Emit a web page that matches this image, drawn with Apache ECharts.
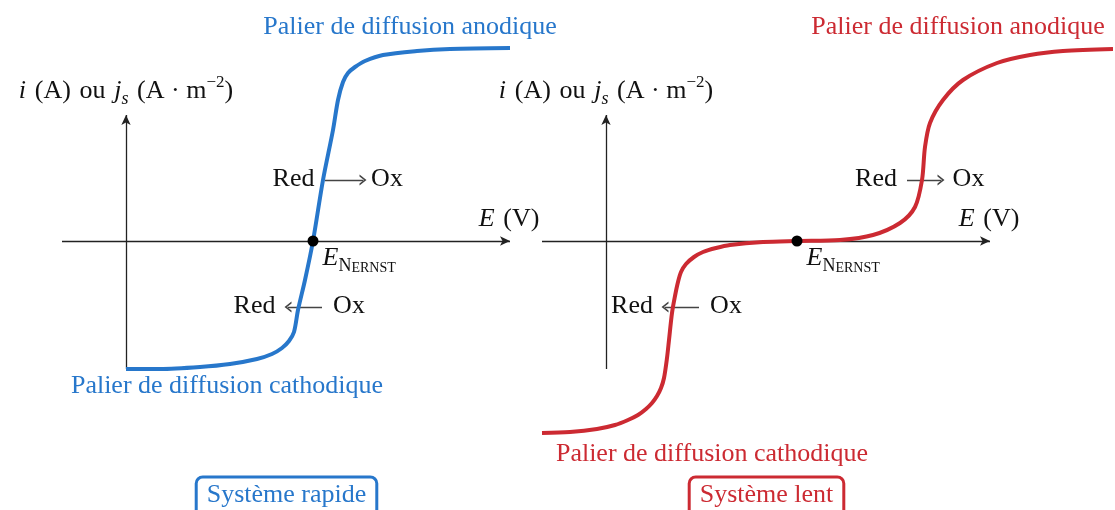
<!DOCTYPE html>
<html>
<head>
<meta charset="utf-8">
<script src="https://cdn.jsdelivr.net/npm/echarts@6/dist/echarts.min.js"></script>
<style>
  html, body { margin: 0; padding: 0; background: #fff; }
  #c { width: 1115px; height: 510px; }
</style>
</head>
<body>
<div id="c"></div>
<script>
// Courbe i(E) d'un système rapide (E relatif en V, i en unités arbitraires)
const rapideE = [0, 0.34, 0.74, 1.04, 1.31, 1.46, 1.56, 1.63, 1.68, 1.72, 1.79, 1.87, 1.97, 2.07, 2.12, 2.17, 2.22, 2.29, 2.39, 2.57, 2.91, 3.24, 3.84];
const rapideI = [-1.28, -1.28, -1.26, -1.23, -1.18, -1.13, -1.07, -1.00, -0.91, -0.69, -0.39, 0, 0.61, 1.11, 1.41, 1.59, 1.68, 1.74, 1.80, 1.86, 1.90, 1.92, 1.93];

// Courbe i(E) d'un système lent
const lentE = [-0.64, -0.36, -0.09, 0.09, 0.22, 0.32, 0.40, 0.46, 0.51, 0.55, 0.58, 0.61, 0.63, 0.66, 0.69, 0.72, 0.75, 0.80, 0.88, 0.97, 1.10, 1.24, 1.57, 1.91, 2.34, 2.67, 2.94, 3.09, 3.16, 3.19, 3.24, 3.37, 3.57, 3.91, 4.24, 4.57, 5.07];
const lentI = [-1.92, -1.91, -1.88, -1.84, -1.79, -1.74, -1.68, -1.62, -1.55, -1.47, -1.37, -1.17, -0.99, -0.72, -0.55, -0.41, -0.31, -0.23, -0.16, -0.11, -0.07, -0.04, -0.01, 0, 0.01, 0.06, 0.18, 0.34, 0.61, 0.94, 1.18, 1.41, 1.61, 1.78, 1.86, 1.90, 1.92];

// Potentiel de Nernst de chaque système (i = 0)
const nernstE = [1.87, 1.91];

// Étendue des axes tracés
const axeEEtendue = [-0.64, 3.84];
const axeIEtendue = [-1.28, 1.26];

// Textes
const titres = ['Système rapide', 'Système lent'];
const palierAnodique = 'Palier de diffusion anodique';
const palierCathodique = 'Palier de diffusion cathodique';
const axeILabel = '{it|i}\u2004(A)\u2004ou\u2004{it|j}{sub|s}\u2004(A\u2005·\u2005m{sup|−2})';
const axeELabel = '{it|E}\u2004(V)';
const especeRed = 'Red';
const especeOx = 'Ox';
const nernstLabel = '{it|E}{n|N}{sc|ERNST}';

const SERIF = "'Liberation Serif', 'DejaVu Serif', serif";
const BLEU = '#2777cb';
const ROUGE = '#cc2a32';
const NOIR = '#111';

const rich = {
  it: { fontStyle: 'italic', fontFamily: SERIF, fontSize: 26, lineHeight: 34, color: NOIR },
  sub: { fontStyle: 'italic', fontFamily: SERIF, fontSize: 18, lineHeight: 26, verticalAlign: 'bottom', color: NOIR },
  sup: { fontFamily: SERIF, fontSize: 17, lineHeight: 22, verticalAlign: 'top', color: NOIR },
  n: { fontFamily: SERIF, fontSize: 18, lineHeight: 20, verticalAlign: 'bottom', color: NOIR },
  sc: { fontFamily: SERIF, fontSize: 14, lineHeight: 17, verticalAlign: 'bottom', color: NOIR }
};

// Pointe de flèche ouverte (orientée vers le haut, tournée par markLine)
const CHEVRON = 'path://M5,0 L10,10 L8.2,10 L5,3.6 L1.8,10 L0,10 Z';

const panneaux = [
  {
    couleur: BLEU, E: rapideE, I: rapideI, nernst: nernstE[0], titre: titres[0],
    left: 0, width: 540, xmin: -1.26, xmax: 4.14,
    pos: {
      anod: [2.84, 2.14], cath: [1.01, -1.45], titre: [1.605, -2.605],
      redHaut: [1.675, 0.62], oxHaut: [2.61, 0.62], flecheHaut: [[1.99, 0.61], [2.37, 0.61]],
      redBas: [1.285, -0.65], oxBas: [2.23, -0.65], flecheBas: [[1.96, -0.66], [1.62, -0.66]]
    }
  },
  {
    couleur: ROUGE, E: lentE, I: lentI, nernst: nernstE[1], titre: titres[1],
    left: 540, width: 575, xmin: -0.66, xmax: 5.09,
    pos: {
      anod: [3.52, 2.14], cath: [1.06, -2.13], titre: [1.605, -2.605],
      redHaut: [2.70, 0.62], oxHaut: [3.625, 0.62], flecheHaut: [[3.01, 0.61], [3.35, 0.61]],
      redBas: [0.26, -0.65], oxBas: [1.20, -0.65], flecheBas: [[0.93, -0.66], [0.59, -0.66]]
    }
  }
];

const grids = [], xAxes = [], yAxes = [], series = [];

panneaux.forEach((p, k) => {
  grids.push({ left: p.left, width: p.width, top: 0, height: 510 });
  xAxes.push({ type: 'value', gridIndex: k, min: p.xmin, max: p.xmax, show: false });
  yAxes.push({ type: 'value', gridIndex: k, min: -2.69, max: 2.41, show: false });

  const txt = (value, formatter, extra) => ({
    value,
    label: Object.assign({
      show: true, position: 'inside', formatter,
      fontFamily: SERIF, fontSize: 26, lineHeight: 34, color: NOIR,
      textBorderWidth: 0, textShadowBlur: 0, rich
    }, extra || {})
  });

  const etiquettes = [
    txt(p.pos.anod, palierAnodique, { color: p.couleur }),
    txt(p.pos.cath, palierCathodique, { color: p.couleur }),
    txt([0, 1.50], axeILabel),
    txt([axeEEtendue[1] - 0.01, 0.22], axeELabel),
    txt(p.pos.redHaut, especeRed),
    txt(p.pos.oxHaut, especeOx),
    txt(p.pos.redBas, especeRed),
    txt(p.pos.oxBas, especeOx),
    txt([p.nernst + 0.09, -0.17], nernstLabel, { position: 'right', distance: 0 }),
    txt(p.pos.titre, p.titre, {
      color: p.couleur, backgroundColor: '#fff', borderColor: p.couleur,
      borderWidth: 3, borderRadius: 5, padding: [2, 9, 14, 9], lineHeight: 30
    })
  ];

  // Axes fléchés + textes
  series.push({
    type: 'scatter', xAxisIndex: k, yAxisIndex: k, silent: true,
    symbolSize: 1, itemStyle: { color: 'rgba(0,0,0,0)', opacity: 1 }, z: 8,
    data: etiquettes,
    markLine: {
      silent: true, symbol: ['none', 'arrow'], symbolSize: [7, 10],
      label: { show: false },
      lineStyle: { color: '#222', width: 1.3, type: 'solid' },
      emphasis: { disabled: true },
      data: [
        [{ coord: [axeEEtendue[0], 0] }, { coord: [axeEEtendue[1], 0] }],
        [{ coord: [0, axeIEtendue[0]] }, { coord: [0, axeIEtendue[1]] }]
      ]
    }
  });

  // Flèches Red → Ox et Red ← Ox
  series.push({
    type: 'scatter', xAxisIndex: k, yAxisIndex: k, silent: true,
    symbolSize: 1, itemStyle: { color: 'rgba(0,0,0,0)', opacity: 1 }, z: 8,
    data: [p.pos.redHaut],
    markLine: {
      silent: true, symbol: ['none', CHEVRON], symbolSize: [11, 7],
      label: { show: false },
      lineStyle: { color: '#444', width: 1.4, type: 'solid' },
      itemStyle: { color: '#444' },
      emphasis: { disabled: true },
      data: [
        [{ coord: p.pos.flecheHaut[0] }, { coord: p.pos.flecheHaut[1] }],
        [{ coord: p.pos.flecheBas[0] }, { coord: p.pos.flecheBas[1] }]
      ]
    }
  });

  // Courbe courant-potentiel
  series.push({
    type: 'line', xAxisIndex: k, yAxisIndex: k, silent: true, clip: false,
    data: p.E.map((e, j) => [e, p.I[j]]),
    smooth: 0.3, symbol: 'none', z: 6,
    lineStyle: { color: p.couleur, width: 4 }
  });

  // Point E_Nernst
  series.push({
    type: 'scatter', xAxisIndex: k, yAxisIndex: k, silent: true, z: 7,
    symbolSize: 11, itemStyle: { color: '#000', opacity: 1 },
    data: [[p.nernst, 0]]
  });
});

const chart = echarts.init(document.getElementById('c'), null, { renderer: 'canvas' });
chart.setOption({
  animation: false,
  backgroundColor: '#fff',
  grid: grids, xAxis: xAxes, yAxis: yAxes, series
});
</script>
</body>
</html>
